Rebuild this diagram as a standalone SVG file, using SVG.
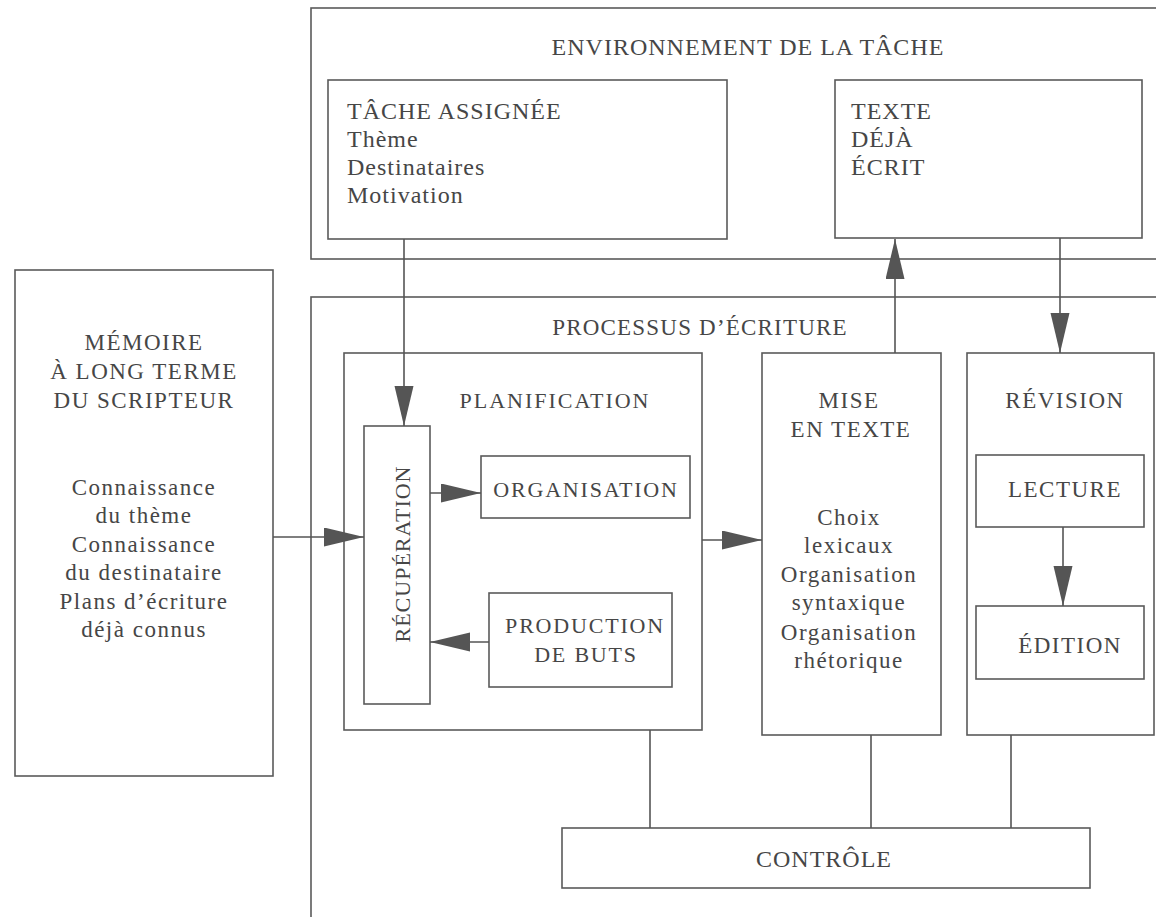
<svg xmlns="http://www.w3.org/2000/svg" width="1156" height="917" viewBox="0 0 1156 917">
<style>
.box{fill:none;stroke:#5a5a5a;stroke-width:1.6}
.ln{fill:none;stroke:#555;stroke-width:1.6}
.t{font-family:"Liberation Serif","Times New Roman",serif;font-size:23px;fill:#464646}
.m{text-anchor:middle}
.w{letter-spacing:1.5px}
.h{font-size:24px;letter-spacing:1px}
</style>
<defs>
<marker id="ah" markerUnits="userSpaceOnUse" markerWidth="42" markerHeight="20" refX="40" refY="9.5" orient="auto" viewBox="0 0 42 20">
<path d="M0,0 L40,9.5 L0,19 Z" fill="#555"/>
</marker>
</defs>
<rect width="1156" height="917" fill="#fff"/>

<g id="env">
<rect class="box" x="311" y="8" width="870" height="251"/>
<text class="t m" x="748" y="55" style="font-size:24px;letter-spacing:1px">ENVIRONNEMENT DE LA TÂCHE</text>
</g>
<g id="tache">
<rect class="box" x="328" y="80" width="399" height="159"/>
<text class="t h" x="347" y="119">TÂCHE ASSIGNÉE</text>
<text class="t h" x="347" y="147">Thème</text>
<text class="t h" x="347" y="175">Destinataires</text>
<text class="t h" x="347" y="203">Motivation</text>
</g>
<g id="texte">
<rect class="box" x="835" y="80" width="307" height="158"/>
<text class="t h" x="851" y="119">TEXTE</text>
<text class="t h" x="851" y="147">DÉJÀ</text>
<text class="t h" x="851" y="175">ÉCRIT</text>
</g>
<g id="memoire">
<rect class="box" x="15" y="270" width="258" height="506"/>
<text class="t m w" x="144" y="350">MÉMOIRE</text>
<text class="t m w" x="144" y="379">À LONG TERME</text>
<text class="t m w" x="144" y="408">DU SCRIPTEUR</text>
<text class="t m w" x="144" y="495">Connaissance</text>
<text class="t m w" x="144" y="523">du thème</text>
<text class="t m w" x="144" y="552">Connaissance</text>
<text class="t m w" x="144" y="580">du destinataire</text>
<text class="t m w" x="144" y="609">Plans d’écriture</text>
<text class="t m w" x="144" y="637">déjà connus</text>
</g>
<g id="processus">
<rect class="box" x="311" y="297" width="870" height="640"/>
<text class="t m" x="700" y="335" style="letter-spacing:1.2px">PROCESSUS D’ÉCRITURE</text>
</g>
<g id="planification">
<rect class="box" x="344" y="353" width="358" height="377"/>
<text class="t m" x="555" y="408" style="font-size:22px;letter-spacing:2px">PLANIFICATION</text>
</g>
<g id="recuperation">
<rect class="box" x="364" y="426" width="66" height="278"/>
<text class="t m" transform="translate(410,554) rotate(-90)" style="font-size:22px;letter-spacing:1px">RÉCUPÉRATION</text>
</g>
<g id="organisation">
<rect class="box" x="481" y="456" width="209" height="62"/>
<text class="t m" x="586" y="497" style="font-size:22px;letter-spacing:1.8px">ORGANISATION</text>
</g>
<g id="production">
<rect class="box" x="489" y="593" width="183" height="94"/>
<text class="t m" x="585" y="633" style="font-size:22px;letter-spacing:1.8px">PRODUCTION</text>
<text class="t m" x="586" y="662" style="font-size:22px;letter-spacing:1.8px">DE BUTS</text>
</g>
<g id="mise">
<rect class="box" x="762" y="353" width="179" height="382"/>
<text class="t m w" x="849" y="408">MISE</text>
<text class="t m w" x="851" y="437">EN TEXTE</text>
<text class="t m w" x="849" y="525">Choix</text>
<text class="t m w" x="849" y="553">lexicaux</text>
<text class="t m w" x="849" y="582">Organisation</text>
<text class="t m w" x="849" y="610">syntaxique</text>
<text class="t m w" x="849" y="640">Organisation</text>
<text class="t m w" x="849" y="668">rhétorique</text>
</g>
<g id="revision">
<rect class="box" x="967" y="353" width="187" height="382"/>
<text class="t m w" x="1065" y="408">RÉVISION</text>
</g>
<g id="lecture">
<rect class="box" x="976" y="455" width="168" height="72"/>
<text class="t m w" x="1065" y="497">LECTURE</text>
</g>
<g id="edition">
<rect class="box" x="976" y="606" width="168" height="73"/>
<text class="t m w" x="1070" y="653">ÉDITION</text>
</g>
<g id="controle">
<rect class="box" x="562" y="828" width="528" height="60"/>
<text class="t m" x="824" y="867" style="font-size:24px;letter-spacing:1px">CONTRÔLE</text>
</g>

<g id="connectors">
<line class="ln" x1="404" y1="239" x2="404" y2="426" marker-end="url(#ah)"/>
<line class="ln" x1="273" y1="537" x2="364" y2="537" marker-end="url(#ah)"/>
<line class="ln" x1="430" y1="493" x2="481" y2="493" marker-end="url(#ah)"/>
<line class="ln" x1="489" y1="642" x2="430" y2="642" marker-end="url(#ah)"/>
<line class="ln" x1="702" y1="540" x2="762" y2="540" marker-end="url(#ah)"/>
<line class="ln" x1="895" y1="353" x2="895" y2="239" marker-end="url(#ah)"/>
<line class="ln" x1="1060" y1="238" x2="1060" y2="353" marker-end="url(#ah)"/>
<line class="ln" x1="1063" y1="527" x2="1063" y2="606" marker-end="url(#ah)"/>
<line class="ln" x1="650" y1="730" x2="650" y2="828"/>
<line class="ln" x1="871" y1="735" x2="871" y2="828"/>
<line class="ln" x1="1011" y1="735" x2="1011" y2="828"/>
</g>
</svg>
